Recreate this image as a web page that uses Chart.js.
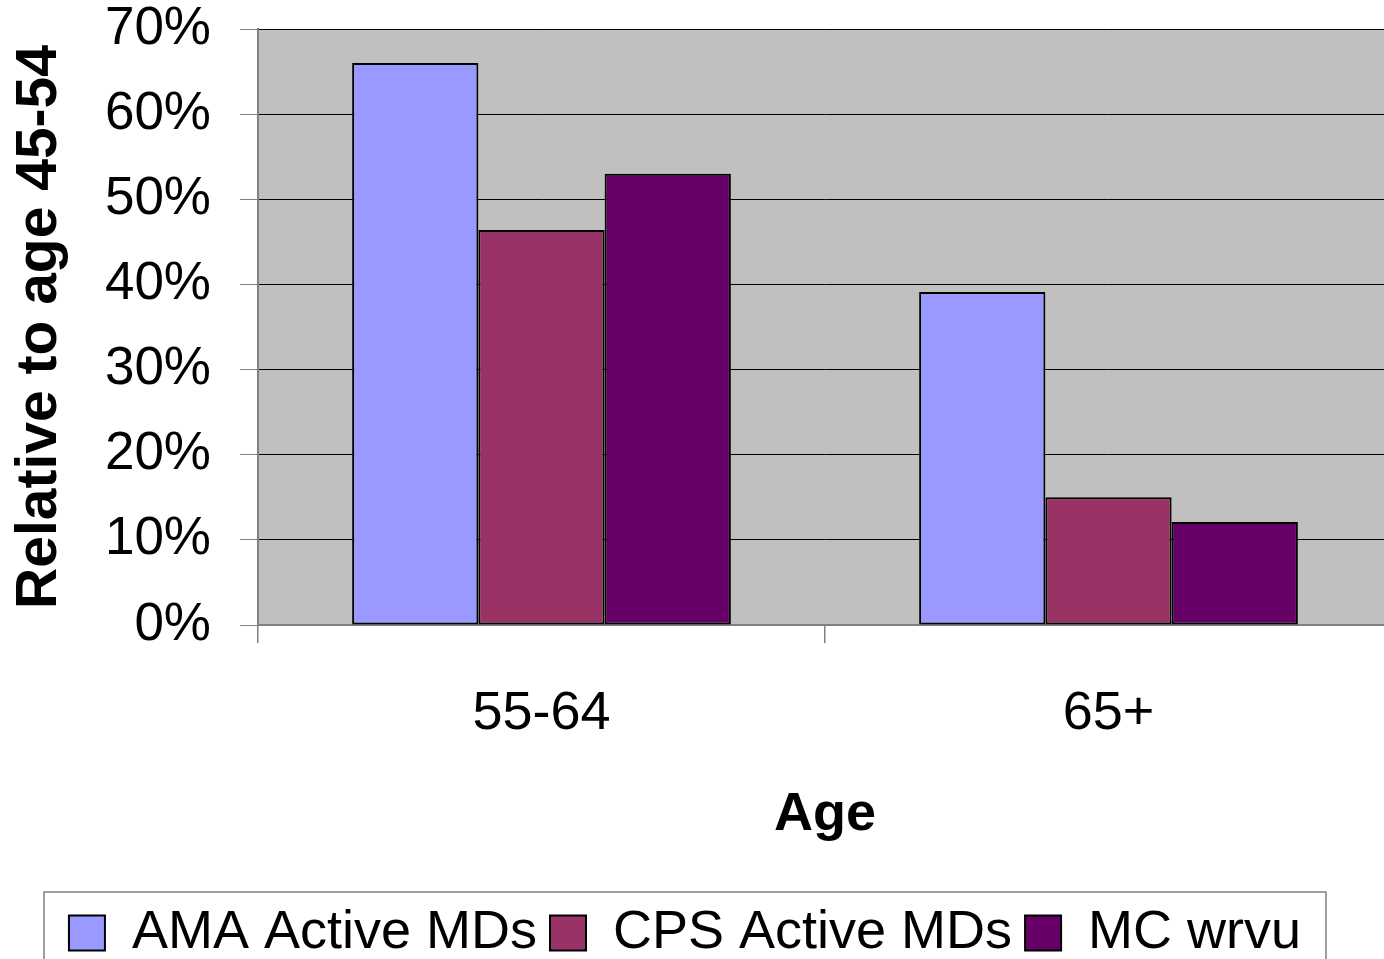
<!DOCTYPE html>
<html>
<head>
<meta charset="utf-8">
<script src="https://cdn.jsdelivr.net/npm/chart.js@4"></script>
<style>
  html, body { margin: 0; padding: 0; background: #fff; overflow: hidden; }
  #wrap { width: 1384px; height: 959px; overflow: hidden; }
</style>
</head>
<body>
<div id="wrap"><canvas id="chart" width="1392" height="970"></canvas></div>
<script>
const ageGroups = ["55-64", "65+"];
const amaActive = [0.66, 0.391];
const cpsActive = [0.464, 0.15];
const mcWrvu = [0.53, 0.121];
const seriesNames = ["AMA Active MDs", "CPS Active MDs", "MC wrvu"];
const seriesColors = ["#9999FF", "#993366", "#660066"];
const yTicks = [0, 0.1, 0.2, 0.3, 0.4, 0.5, 0.6, 0.7];

Chart.defaults.font.family = "'Liberation Sans', Arial, sans-serif";
Chart.defaults.color = "#000";

// grey plot area like the old Excel charts
const plotBackground = {
  id: "plotBackground",
  beforeDraw(chart) {
    const { ctx, chartArea: a } = chart;
    ctx.save();
    ctx.fillStyle = "#C0C0C0";
    ctx.fillRect(a.left, a.top, a.right - a.left, a.bottom - a.top);
    ctx.restore();
  },
};

// nudge the legend a bit left and draw the frame around it
const legendFrame = {
  id: "legendFrame",
  afterLayout(chart) {
    chart.legend.left -= 11;
    chart.legend.right -= 11;
  },
  afterDraw(chart) {
    const { ctx, legend } = chart;
    const mid = (legend.left + legend.right) / 2;
    ctx.save();
    ctx.strokeStyle = "#808080";
    ctx.lineWidth = 1.5;
    ctx.strokeRect(mid - 641, legend.top - 1, 1282, 200);
    ctx.restore();
  },
};

const seriesData = [amaActive, cpsActive, mcWrvu];

new Chart(document.getElementById("chart"), {
  type: "bar",
  data: {
    labels: ageGroups,
    datasets: seriesNames.map((name, i) => ({
      label: name,
      data: seriesData[i],
      backgroundColor: seriesColors[i],
      borderColor: "#000",
      borderWidth: 2,
      borderSkipped: false,
      categoryPercentage: 0.668,
      barPercentage: 1,
    })),
  },
  options: {
    responsive: false,
    animation: false,
    layout: { padding: 0 },
    plugins: {
      tooltip: { enabled: false },
      legend: {
        position: "bottom",
        labels: {
          font: { size: 54 },
          color: "#000",
          boxWidth: 36,
          boxHeight: 35,
          padding: 13,
        },
      },
    },
    scales: {
      x: {
        grid: {
          offset: true,
          drawOnChartArea: false,
          color: "#808080",
          lineWidth: 1.5,
          tickLength: 18,
        },
        border: { color: "#808080", width: 2 },
        ticks: { font: { size: 54 }, color: "#000", padding: 39 },
        title: {
          display: true,
          text: "Age",
          font: { size: 54, weight: "bold" },
          color: "#000",
          padding: { top: 0, bottom: 45 },
        },
        afterFit(scale) {
          scale.height = 268;
        },
      },
      y: {
        min: 0,
        max: 0.7,
        afterBuildTicks(scale) {
          scale.ticks = yTicks.map((v) => ({ value: v }));
        },
        ticks: {
          font: { size: 53 },
          color: "#000",
          padding: 29,
          callback: (v) => Math.round(v * 100) + "%",
        },
        grid: { color: "#000", lineWidth: 1, tickLength: 18, tickColor: "#808080" },
        border: { color: "#808080", width: 2 },
        title: {
          display: true,
          text: "Relative to age 45-54",
          font: { size: 57, weight: "bold" },
          color: "#000",
          padding: { top: 6 },
        },
        afterFit(scale) {
          scale.width = 258;
          scale.paddingTop = 29;
        },
      },
    },
  },
  plugins: [plotBackground, legendFrame],
});
</script>
</body>
</html>
